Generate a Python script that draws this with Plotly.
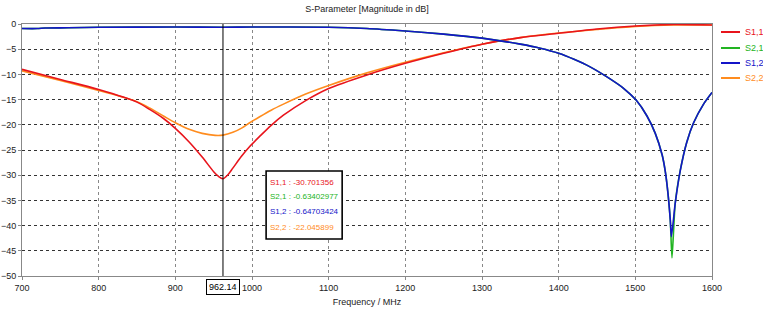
import plotly.graph_objects as go

# ---- data ----
s11_f = [700, 750, 800, 850, 867, 885, 900, 918, 935, 950, 956, 962.14, 968, 975, 986, 997, 1010, 1025, 1041, 1070, 1100, 1150, 1200, 1250, 1300, 1350, 1400, 1450, 1500, 1550, 1600]
s11_db = [-9.0, -11.0, -13.0, -15.5, -17.0, -18.8, -20.7, -23.4, -26.4, -29.3, -30.2, -30.70, -30.0, -28.6, -26.3, -24.3, -22.3, -20.1, -18.1, -15.2, -12.8, -10.1, -7.8, -5.8, -4.0, -2.7, -1.85, -1.0, -0.4, -0.1, -0.2]

s22_f = [700, 750, 800, 850, 867, 885, 900, 918, 935, 952, 962.14, 975, 987, 997, 1010, 1025, 1041, 1070, 1100, 1150, 1200, 1250, 1300, 1350, 1400, 1450, 1500, 1550, 1600]
s22_db = [-9.3, -11.2, -13.2, -15.4, -16.7, -18.3, -19.6, -20.9, -21.7, -22.1, -22.05, -21.5, -20.6, -19.6, -18.4, -17.1, -15.9, -13.9, -12.2, -9.7, -7.6, -5.7, -4.0, -2.7, -1.8, -1.1, -0.5, -0.2, -0.2]

s12_f = [700, 720, 730, 760, 800, 900, 962.14, 1000, 1100, 1150, 1200, 1250, 1300, 1350, 1376, 1400, 1420, 1441, 1463, 1485, 1501, 1515, 1526, 1535, 1539, 1542.5, 1545.6, 1547, 1552, 1558.7, 1567, 1576, 1589, 1600]
s12_db = [-0.9, -0.9, -0.8, -0.75, -0.65, -0.6, -0.647, -0.6, -0.65, -0.9, -1.4, -2.0, -2.8, -4.0, -4.8, -5.8, -7.0, -8.5, -10.5, -12.8, -15.1, -18.2, -21.7, -26.0, -29.2, -33.5, -38.9, -42.2, -35.6, -29.0, -23.5, -19.6, -15.9, -13.6]

s21_f = [700, 720, 730, 760, 800, 900, 962.14, 1000, 1100, 1150, 1200, 1250, 1300, 1350, 1376, 1400, 1420, 1441, 1463, 1485, 1501, 1515, 1526, 1535, 1539, 1542.5, 1545.6, 1547.8, 1552, 1558.7, 1567, 1576, 1589, 1600]
s21_db = [-0.9, -0.9, -0.8, -0.75, -0.65, -0.6, -0.634, -0.6, -0.65, -0.9, -1.4, -2.0, -2.8, -4.0, -4.8, -5.8, -7.0, -8.5, -10.5, -12.8, -15.1, -18.2, -21.7, -26.0, -29.2, -33.5, -38.9, -46.4, -35.6, -29.0, -23.5, -19.6, -15.9, -13.6]

marker_f = 962.14
marker_text = ["S1,1 : -30.701356", "S2,1 : -0.63402977", "S1,2 : -0.64703424", "S2,2 : -22.045899"]
series_names = ["S1,1", "S2,1", "S1,2", "S2,2"]

x_ticks = [700, 800, 900, 1000, 1100, 1200, 1300, 1400, 1500, 1600]
y_ticks = [0, -5, -10, -15, -20, -25, -30, -35, -40, -45, -50]

RED, GREEN, BLUE, ORANGE = "#e8141c", "#22b422", "#1414c8", "#ff8c1e"
COLORS = [RED, GREEN, BLUE, ORANGE]
FONT = "Liberation Sans"

fig = go.Figure()
def add(f, d, name, color, smooth=0.8):
    fig.add_trace(go.Scatter(
        x=f, y=d, mode="lines", name=name,
        line=dict(color=color, width=1.6, shape="spline", smoothing=smooth),
        hoverinfo="skip", showlegend=False))

add(s22_f, s22_db, "S2,2", ORANGE)
add(s11_f, s11_db, "S1,1", RED)
add(s21_f, s21_db, "S2,1", GREEN, 0.6)
add(s12_f, s12_db, "S1,2", BLUE, 0.6)

# marker line
fig.add_shape(type="line", x0=marker_f, x1=marker_f, y0=-50, y1=0,
              xref="x", yref="y", line=dict(color="black", width=1))

# marker value box
fig.add_shape(type="rect", x0=1018.4, x1=1117.6, y0=-42.66, y1=-29.17, xref="x", yref="y",
              fillcolor="white", line=dict(color="black", width=1.6), layer="above")
line_y = [-31.35, -34.3, -37.3, -40.3]
for c, t, yy in zip(COLORS, marker_text, line_y):
    fig.add_annotation(x=1021, y=yy, xref="x", yref="y", xanchor="left", yanchor="middle",
                       text=t, showarrow=False, font=dict(family=FONT, size=8, color=c))

fig.add_annotation(x=marker_f, y=-50, xref="x", yref="y", yanchor="top", yshift=-3,
                   text=f"{marker_f:.2f}", showarrow=False, bgcolor="white",
                   bordercolor="black", borderwidth=1, borderpad=2,
                   font=dict(family=FONT, size=9, color="black"))

# legend (drawn manually to keep margins fixed)
W, H = 763, 311
leg_y = [32, 48, 63, 78]
for c, n, py in zip(COLORS, series_names, leg_y):
    yp = 1 - (py - 24) / (H - 24 - 35)
    fig.add_shape(type="line", xref="paper", yref="paper",
                  x0=(721 - 22) / (W - 22 - 51), x1=(740 - 22) / (W - 22 - 51), y0=yp, y1=yp,
                  line=dict(color=c, width=2))
    fig.add_annotation(xref="paper", yref="paper", x=(743 - 22) / (W - 22 - 51), y=yp,
                       xanchor="left", yanchor="middle", text=n, showarrow=False,
                       font=dict(family=FONT, size=9, color=c))

fig.update_layout(
    width=W, height=H,
    margin=dict(l=22, r=51, t=24, b=35, autoexpand=False),
    paper_bgcolor="white", plot_bgcolor="white",
    font=dict(family=FONT, size=9, color="#222"),
    title=dict(text="S-Parameter [Magnitude in dB]", x=0.5, xref="paper",
               y=1 - 9 / H, yref="container", yanchor="middle", automargin=False,
               font=dict(size=9, color="#222")),
    showlegend=False,
)
fig.update_xaxes(range=[700, 1600], tickvals=x_ticks, showgrid=True, gridcolor="#888",
                 griddash="dot", gridwidth=1, showline=True, linecolor="#888", mirror=True,
                 ticks="outside", ticklen=3, tickcolor="#888", zeroline=False, automargin=False,
                 title=dict(text="Frequency / MHz", standoff=6, font=dict(size=9)))
fig.update_yaxes(range=[-50, 0], tickvals=y_ticks, showgrid=True, gridcolor="#333",
                 griddash="dot", gridwidth=1, showline=True, linecolor="#888", mirror=True,
                 ticks="outside", ticklen=3, tickcolor="#888", zeroline=False, automargin=False)

fig.write_html("out.html", config={"displayModeBar": False, "staticPlot": True},
               post_script="document.body.style.margin='0';document.body.style.overflow='hidden';")
